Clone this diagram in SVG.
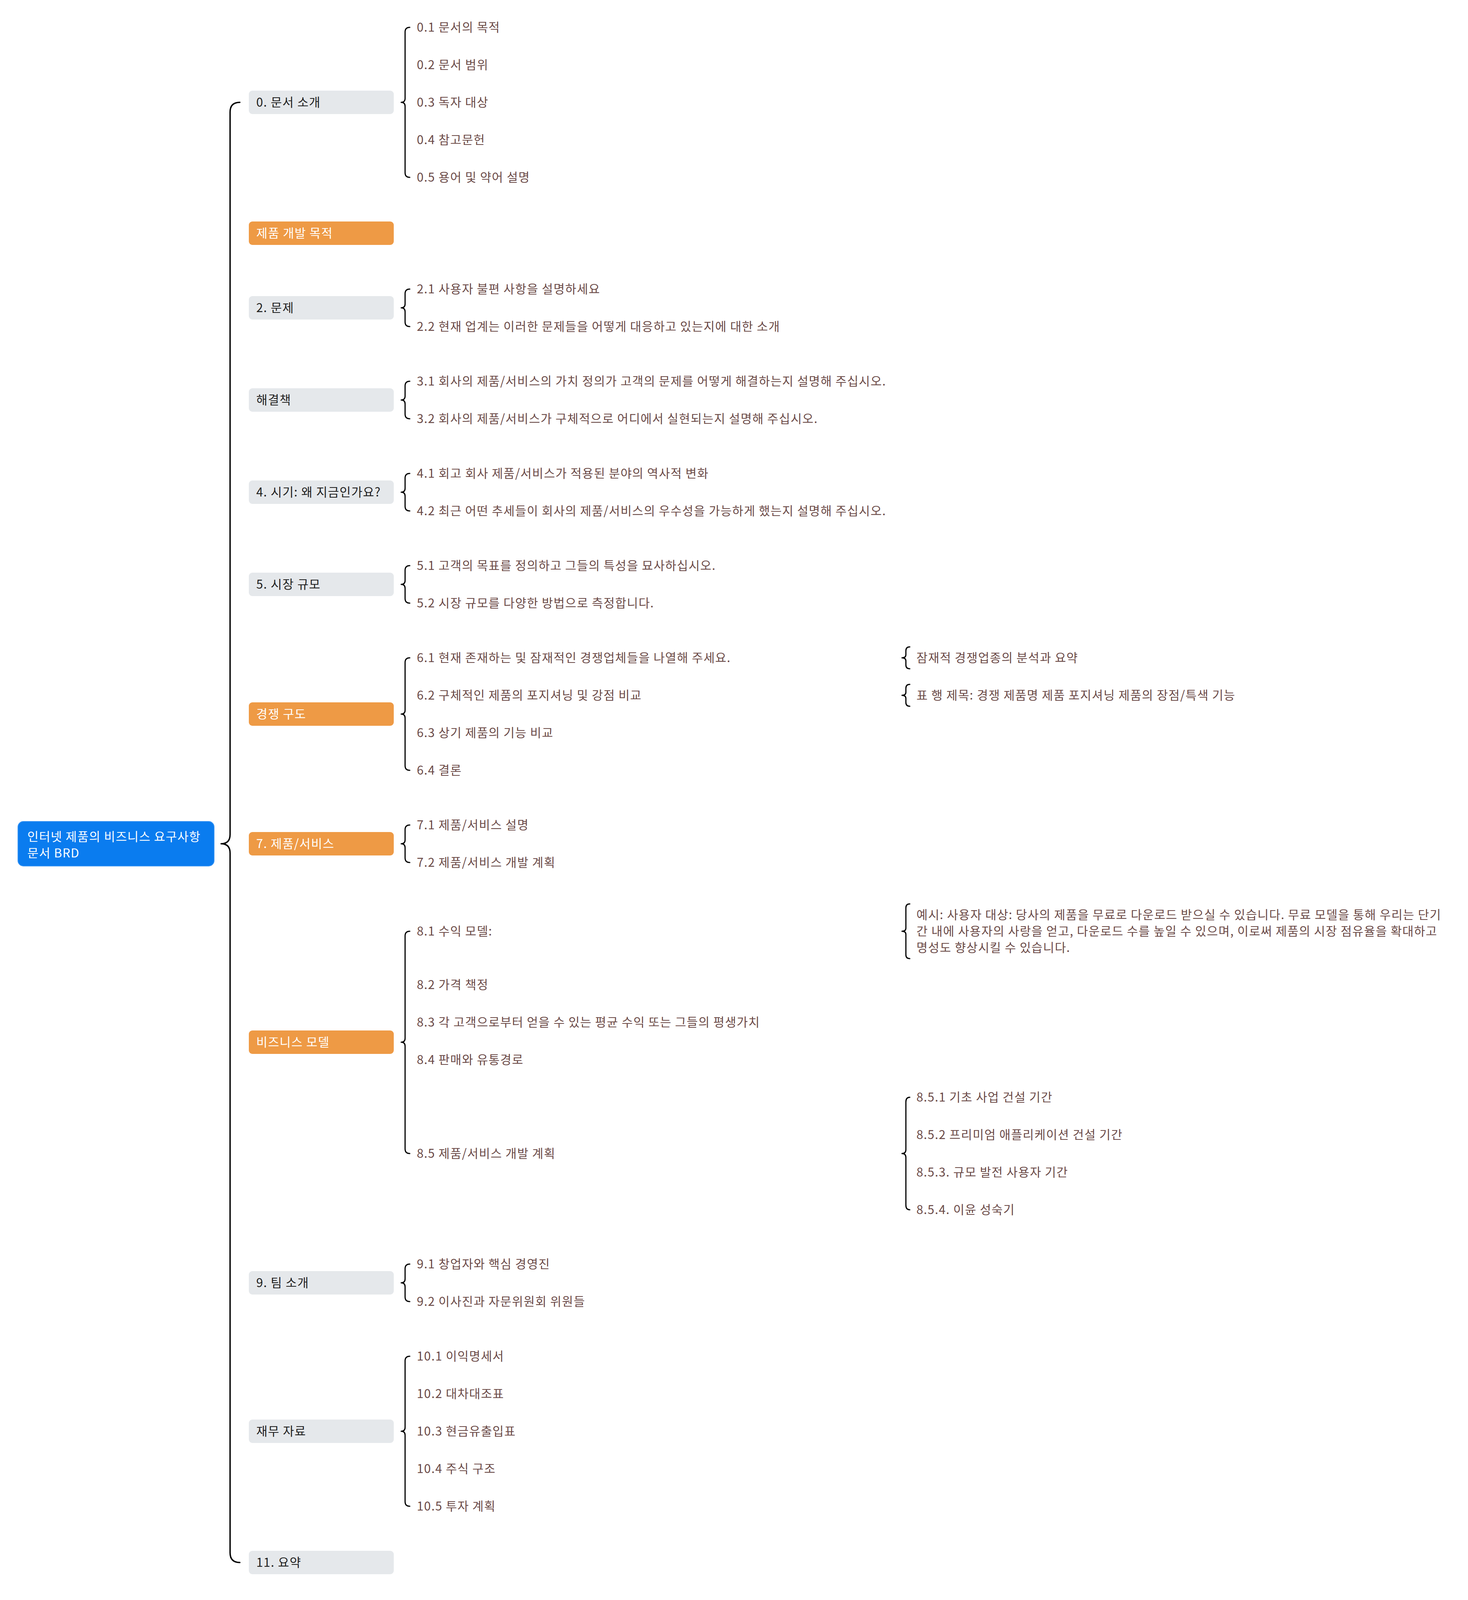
<svg xmlns="http://www.w3.org/2000/svg" width="3758" height="4215" viewBox="0 0 3758 4215">
<style>
text{font-family:"Noto Sans CJK KR","Noto Sans",sans-serif;font-size:31px;letter-spacing:1.4px}
.leaf{fill:#6b4a47}
.gray rect{fill:#e5e8eb}
.gray text{fill:#1e1e1e}
.orange rect{fill:#ee9a45}
.orange text{fill:#ffffff}
.br{fill:none;stroke:#000;stroke-width:3;stroke-linecap:round;stroke-linejoin:round}
</style>
<rect width="3758" height="4215" fill="#ffffff"/>
<g id="connectors">
<path class="br" style="stroke-width:3.5" d="M614 262 Q589 262 589 287 L589 2136 Q589 2160 566 2160 Q589 2160 589 2184 L589 3975 Q589 4000 614 4000"/>
<path class="br" d="M1049 70 Q1037 70 1037 82 L1037 252 Q1037 262 1027 262 Q1037 262 1037 272 L1037 442 Q1037 454 1049 454"/>
<path class="br" d="M1049 740 Q1037 740 1037 752 L1037 778 Q1037 788 1027 788 Q1037 788 1037 798 L1037 824 Q1037 836 1049 836"/>
<path class="br" d="M1049 976 Q1037 976 1037 988 L1037 1014 Q1037 1024 1027 1024 Q1037 1024 1037 1034 L1037 1060 Q1037 1072 1049 1072"/>
<path class="br" d="M1049 1212 Q1037 1212 1037 1224 L1037 1250 Q1037 1260 1027 1260 Q1037 1260 1037 1270 L1037 1296 Q1037 1308 1049 1308"/>
<path class="br" d="M1049 1448 Q1037 1448 1037 1460 L1037 1486 Q1037 1496 1027 1496 Q1037 1496 1037 1506 L1037 1532 Q1037 1544 1049 1544"/>
<path class="br" d="M1049 1684 Q1037 1684 1037 1696 L1037 1818 Q1037 1828 1027 1828 Q1037 1828 1037 1838 L1037 1960 Q1037 1972 1049 1972"/>
<path class="br" d="M1049 2112 Q1037 2112 1037 2124 L1037 2150 Q1037 2160 1027 2160 Q1037 2160 1037 2170 L1037 2196 Q1037 2208 1049 2208"/>
<path class="br" d="M1049 2384 Q1037 2384 1037 2396 L1037 2658 Q1037 2668 1027 2668 Q1037 2668 1037 2678 L1037 2941 Q1037 2953 1049 2953"/>
<path class="br" d="M1049 3236 Q1037 3236 1037 3248 L1037 3274 Q1037 3284 1027 3284 Q1037 3284 1037 3294 L1037 3320 Q1037 3332 1049 3332"/>
<path class="br" d="M1049 3472 Q1037 3472 1037 3484 L1037 3654 Q1037 3664 1027 3664 Q1037 3664 1037 3674 L1037 3844 Q1037 3856 1049 3856"/>
<path class="br" d="M2329 1656 Q2319 1656 2319 1666 L2319 1676 Q2319 1684 2309 1684 Q2319 1684 2319 1692 L2319 1702 Q2319 1712 2329 1712"/>
<path class="br" d="M2329 1752 Q2319 1752 2319 1762 L2319 1772 Q2319 1780 2309 1780 Q2319 1780 2319 1788 L2319 1798 Q2319 1808 2329 1808"/>
<path class="br" d="M2329 2314 Q2319 2314 2319 2324 L2319 2376 Q2319 2384 2309 2384 Q2319 2384 2319 2392 L2319 2444 Q2319 2454 2329 2454"/>
<path class="br" d="M2329 2809 Q2319 2809 2319 2821 L2319 2943 Q2319 2953 2309 2953 Q2319 2953 2319 2963 L2319 3085 Q2319 3097 2329 3097"/>
</g>
<g id="root">
<rect x="46" y="2103" width="502" height="114" rx="14" fill="#0a7cef" stroke="#3592f3" stroke-width="2"/>
<text x="70" y="2153" fill="#ffffff">인터넷 제품의 비즈니스 요구사항</text>
<text x="70" y="2195" fill="#ffffff">문서 BRD</text>
</g>
<g id="n0" class="gray"><rect x="637" y="232" width="371" height="60" rx="9"/><text x="656" y="273">0. 문서 소개</text></g>
<g id="n1" class="orange"><rect x="637" y="567" width="371" height="60" rx="9"/><text x="656" y="608">제품 개발 목적</text></g>
<g id="n2" class="gray"><rect x="637" y="758" width="371" height="60" rx="9"/><text x="656" y="799">2. 문제</text></g>
<g id="n3" class="gray"><rect x="637" y="994" width="371" height="60" rx="9"/><text x="656" y="1035">해결책</text></g>
<g id="n4" class="gray"><rect x="637" y="1230" width="371" height="60" rx="9"/><text x="656" y="1271">4. 시기: 왜 지금인가요?</text></g>
<g id="n5" class="gray"><rect x="637" y="1466" width="371" height="60" rx="9"/><text x="656" y="1507">5. 시장 규모</text></g>
<g id="n6" class="orange"><rect x="637" y="1798" width="371" height="60" rx="9"/><text x="656" y="1839">경쟁 구도</text></g>
<g id="n7" class="orange"><rect x="637" y="2130" width="371" height="60" rx="9"/><text x="656" y="2171">7. 제품/서비스</text></g>
<g id="n8" class="orange"><rect x="637" y="2638" width="371" height="60" rx="9"/><text x="656" y="2679">비즈니스 모델</text></g>
<g id="n9" class="gray"><rect x="637" y="3254" width="371" height="60" rx="9"/><text x="656" y="3295">9. 팀 소개</text></g>
<g id="n10" class="gray"><rect x="637" y="3634" width="371" height="60" rx="9"/><text x="656" y="3675">재무 자료</text></g>
<g id="n11" class="gray"><rect x="637" y="3970" width="371" height="60" rx="9"/><text x="656" y="4011">11. 요약</text></g>
<g id="leaves">
<g id="n0_1"><text class="leaf" x="1067" y="81">0.1 문서의 목적</text></g>
<g id="n0_2"><text class="leaf" x="1067" y="177">0.2 문서 범위</text></g>
<g id="n0_3"><text class="leaf" x="1067" y="273">0.3 독자 대상</text></g>
<g id="n0_4"><text class="leaf" x="1067" y="369">0.4 참고문헌</text></g>
<g id="n0_5"><text class="leaf" x="1067" y="465">0.5 용어 및 약어 설명</text></g>
<g id="n2_1"><text class="leaf" x="1067" y="751">2.1 사용자 불편 사항을 설명하세요</text></g>
<g id="n2_2"><text class="leaf" x="1067" y="847">2.2 현재 업계는 이러한 문제들을 어떻게 대응하고 있는지에 대한 소개</text></g>
<g id="n3_1"><text class="leaf" x="1067" y="987">3.1 회사의 제품/서비스의 가치 정의가 고객의 문제를 어떻게 해결하는지 설명해 주십시오.</text></g>
<g id="n3_2"><text class="leaf" x="1067" y="1083">3.2 회사의 제품/서비스가 구체적으로 어디에서 실현되는지 설명해 주십시오.</text></g>
<g id="n4_1"><text class="leaf" x="1067" y="1223">4.1 회고 회사 제품/서비스가 적용된 분야의 역사적 변화</text></g>
<g id="n4_2"><text class="leaf" x="1067" y="1319">4.2 최근 어떤 추세들이 회사의 제품/서비스의 우수성을 가능하게 했는지 설명해 주십시오.</text></g>
<g id="n5_1"><text class="leaf" x="1067" y="1459">5.1 고객의 목표를 정의하고 그들의 특성을 묘사하십시오.</text></g>
<g id="n5_2"><text class="leaf" x="1067" y="1555">5.2 시장 규모를 다양한 방법으로 측정합니다.</text></g>
<g id="n6_1"><text class="leaf" x="1067" y="1695">6.1 현재 존재하는 및 잠재적인 경쟁업체들을 나열해 주세요.</text></g>
<g id="n6_2"><text class="leaf" x="1067" y="1791">6.2 구체적인 제품의 포지셔닝 및 강점 비교</text></g>
<g id="n6_3"><text class="leaf" x="1067" y="1887">6.3 상기 제품의 기능 비교</text></g>
<g id="n6_4"><text class="leaf" x="1067" y="1983">6.4 결론</text></g>
<g id="n6_1_1"><text class="leaf" x="2346" y="1695">잠재적 경쟁업종의 분석과 요약</text></g>
<g id="n6_2_1"><text class="leaf" x="2346" y="1791">표 행 제목: 경쟁 제품명 제품 포지셔닝 제품의 장점/특색 기능</text></g>
<g id="n7_1"><text class="leaf" x="1067" y="2123">7.1 제품/서비스 설명</text></g>
<g id="n7_2"><text class="leaf" x="1067" y="2219">7.2 제품/서비스 개발 계획</text></g>
<g id="n8_1"><text class="leaf" x="1067" y="2395">8.1 수익 모델:</text></g>
<g id="n8_1_1">
<text class="leaf" x="2346" y="2353">예시: 사용자 대상: 당사의 제품을 무료로 다운로드 받으실 수 있습니다. 무료 모델을 통해 우리는 단기</text>
<text class="leaf" x="2346" y="2395">간 내에 사용자의 사랑을 얻고, 다운로드 수를 높일 수 있으며, 이로써 제품의 시장 점유율을 확대하고</text>
<text class="leaf" x="2346" y="2437">명성도 향상시킬 수 있습니다.</text>
</g>
<g id="n8_2"><text class="leaf" x="1067" y="2532">8.2 가격 책정</text></g>
<g id="n8_3"><text class="leaf" x="1067" y="2628">8.3 각 고객으로부터 얻을 수 있는 평균 수익 또는 그들의 평생가치</text></g>
<g id="n8_4"><text class="leaf" x="1067" y="2724">8.4 판매와 유통경로</text></g>
<g id="n8_5"><text class="leaf" x="1067" y="2964">8.5 제품/서비스 개발 계획</text></g>
<g id="n8_5_1"><text class="leaf" x="2346" y="2820">8.5.1 기초 사업 건설 기간</text></g>
<g id="n8_5_2"><text class="leaf" x="2346" y="2916">8.5.2 프리미엄 애플리케이션 건설 기간</text></g>
<g id="n8_5_3"><text class="leaf" x="2346" y="3012">8.5.3. 규모 발전 사용자 기간</text></g>
<g id="n8_5_4"><text class="leaf" x="2346" y="3108">8.5.4. 이윤 성숙기</text></g>
<g id="n9_1"><text class="leaf" x="1067" y="3247">9.1 창업자와 핵심 경영진</text></g>
<g id="n9_2"><text class="leaf" x="1067" y="3343">9.2 이사진과 자문위원회 위원들</text></g>
<g id="n10_1"><text class="leaf" x="1067" y="3483">10.1 이익명세서</text></g>
<g id="n10_2"><text class="leaf" x="1067" y="3579">10.2 대차대조표</text></g>
<g id="n10_3"><text class="leaf" x="1067" y="3675">10.3 현금유출입표</text></g>
<g id="n10_4"><text class="leaf" x="1067" y="3771">10.4 주식 구조</text></g>
<g id="n10_5"><text class="leaf" x="1067" y="3867">10.5 투자 계획</text></g>
</g>
</svg>
